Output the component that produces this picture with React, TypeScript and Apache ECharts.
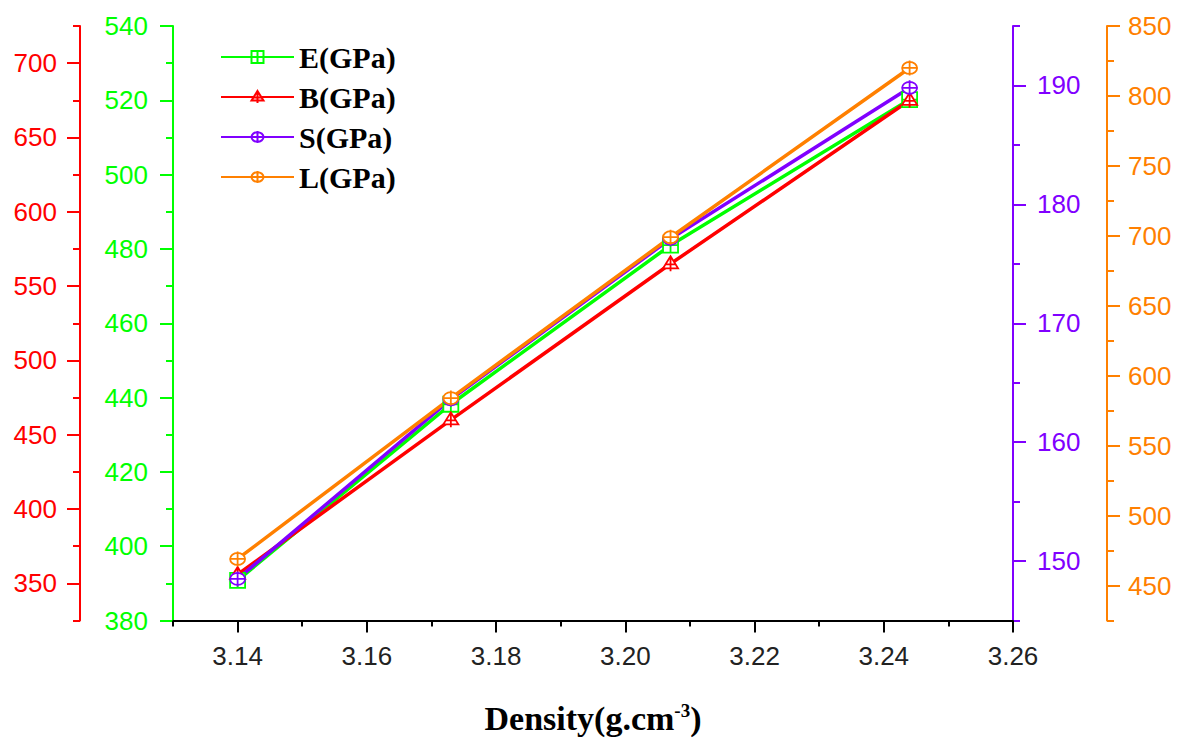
import React, { useEffect, useRef } from "react";
import * as echarts from "echarts";

const densities = [3.14, 3.173, 3.207, 3.244];
const eValues = [390.8, 438.2, 481, 520.2];
const bValues = [356, 460, 565, 675];
const sValues = [148.5, 163.6, 177.1, 189.8];
const lValues = [469, 584, 699, 820];

const xTicks = [3.14, 3.16, 3.18, 3.2, 3.22, 3.24, 3.26];
const redTicks = [350, 400, 450, 500, 550, 600, 650, 700];
const purpleTicks = [150, 160, 170, 180, 190];
const orangeTicks = [450, 500, 550, 600, 650, 700, 750, 800, 850];

const GREEN = "#00ff00";
const RED = "#ff0000";
const PURPLE = "#8000ff";
const ORANGE = "#ff8000";

const SYM_SQUARE = "path://M0,0L12,0L12,12L0,12ZM6,0L6,12M0,6L12,6";
const SYM_TRI = "path://M7,0L14,12L0,12ZM7,0L7,15M2,8L12,8";
const SYM_CIRC = "path://M1,7A6,6,0,1,1,13,7A6,6,0,1,1,1,7ZM7,-0.5L7,14.5M1,7L13,7";

const LABEL_FONT = "Liberation Sans";
const LABEL_SIZE = 26;

function majorAxis(opts: any) {
  const { color, min, max, position, offset, ticks, interval, margin } = opts;
  const ax: any = {
    type: "value",
    min,
    max,
    position,
    offset,
    splitLine: { show: false },
    axisLine: { show: true, onZero: false, lineStyle: { color, width: 2 } },
    axisTick: { show: true, inside: false, length: 13, lineStyle: { color, width: 2 } },
    axisLabel: {
      show: true,
      color,
      fontFamily: LABEL_FONT,
      fontSize: LABEL_SIZE,
      margin,
      showMinLabel: true,
      showMaxLabel: true,
    },
  };
  if (ticks) {
    ax.axisTick.customValues = ticks;
    ax.axisLabel.customValues = ticks;
  } else {
    ax.interval = interval;
  }
  return ax;
}

function minorAxis(opts: any) {
  const { color, min, max, position, offset, interval } = opts;
  return {
    type: "value",
    min,
    max,
    interval,
    position,
    offset,
    splitLine: { show: false },
    axisLine: { show: false },
    axisTick: { show: true, inside: false, length: 7, lineStyle: { color, width: 2 } },
    axisLabel: { show: false },
  };
}

export default function App() {
  const ref = useRef<HTMLDivElement>(null);

  useEffect(() => {
    if (!ref.current) return;
    const chart = echarts.init(ref.current, null, { renderer: "svg" });

    const mk = (name: string, vals: number[], color: string, sym: string, yIdx: number) => ({
      name,
      type: "line",
      xAxisIndex: 0,
      yAxisIndex: yIdx,
      data: densities.map((d, i) => [d, vals[i]]),
      symbol: sym,
      symbolSize: 15,
      color,
      lineStyle: { color, width: 3.5 },
      itemStyle: { color: "#ffffff", borderColor: color, borderWidth: 1.8 },
      z: 2,
    });

    const option: any = {
      animation: false,
      grid: { left: 173, right: 168, top: 26, bottom: 117, containLabel: false },
      legend: {
        orient: "vertical",
        left: 220,
        top: 42,
        padding: 0,
        itemWidth: 73,
        itemHeight: 15,
        itemGap: 10,
        textStyle: {
          fontFamily: "Liberation Serif",
          fontWeight: "bold",
          fontSize: 30,
          lineHeight: 30,
          color: "#000",
        },
        data: ["E(GPa)", "B(GPa)", "S(GPa)", "L(GPa)"],
      },
      xAxis: [
        {
          type: "value",
          min: 3.13,
          max: 3.26,
          position: "bottom",
          offset: 0,
          splitLine: { show: false },
          axisLine: { show: true, onZero: false, lineStyle: { color: "#000", width: 2 } },
          axisTick: { show: true, length: 12, customValues: xTicks, lineStyle: { color: "#000", width: 2 } },
          axisLabel: {
            customValues: xTicks,
            color: "#222",
            fontFamily: LABEL_FONT,
            fontSize: LABEL_SIZE,
            margin: 22,
            formatter: (v: number) => v.toFixed(2),
          },
          name: "Density(g.cm{sup|-3})",
          nameLocation: "middle",
          nameGap: 80,
          nameTextStyle: {
            fontFamily: "Liberation Serif",
            fontWeight: "bold",
            fontSize: 34,
            color: "#000",
            rich: {
              sup: {
                fontFamily: "Liberation Serif",
                fontWeight: "bold",
                fontSize: 19,
                color: "#000",
                verticalAlign: "top",
                padding: [0, 0, 16, 0],
              },
            },
          },
        },
        {
          type: "value",
          min: 3.13,
          max: 3.26,
          interval: 0.01,
          position: "bottom",
          offset: 0,
          splitLine: { show: false },
          axisLine: { show: false },
          axisTick: { show: true, length: 6, lineStyle: { color: "#000", width: 2 } },
          axisLabel: { show: false },
        },
      ],
      yAxis: [
        majorAxis({ color: GREEN, min: 380, max: 540, position: "left", offset: 0, interval: 20, margin: 25 }),
        minorAxis({ color: GREEN, min: 380, max: 540, position: "left", offset: 0, interval: 10 }),
        majorAxis({ color: RED, min: 325, max: 725, position: "left", offset: 93, ticks: redTicks, margin: 23 }),
        minorAxis({ color: RED, min: 325, max: 725, position: "left", offset: 93, interval: 25 }),
        majorAxis({ color: PURPLE, min: 145, max: 195, position: "right", offset: 0, ticks: purpleTicks, margin: 24 }),
        minorAxis({ color: PURPLE, min: 145, max: 195, position: "right", offset: 0, interval: 5 }),
        majorAxis({ color: ORANGE, min: 425, max: 850, position: "right", offset: 94, ticks: orangeTicks, margin: 21 }),
        minorAxis({ color: ORANGE, min: 425, max: 850, position: "right", offset: 94, interval: 25 }),
      ],
      series: [
        mk("E(GPa)", eValues, GREEN, SYM_SQUARE, 0),
        mk("B(GPa)", bValues, RED, SYM_TRI, 2),
        mk("S(GPa)", sValues, PURPLE, SYM_CIRC, 4),
        mk("L(GPa)", lValues, ORANGE, SYM_CIRC, 6),
      ],
    };

    chart.setOption(option);
    return () => chart.dispose();
  }, []);

  return (
    <div
      ref={ref}
      style={{ position: "fixed", left: 0, top: 0, width: 1181, height: 740, background: "#fff" }}
    />
  );
}
